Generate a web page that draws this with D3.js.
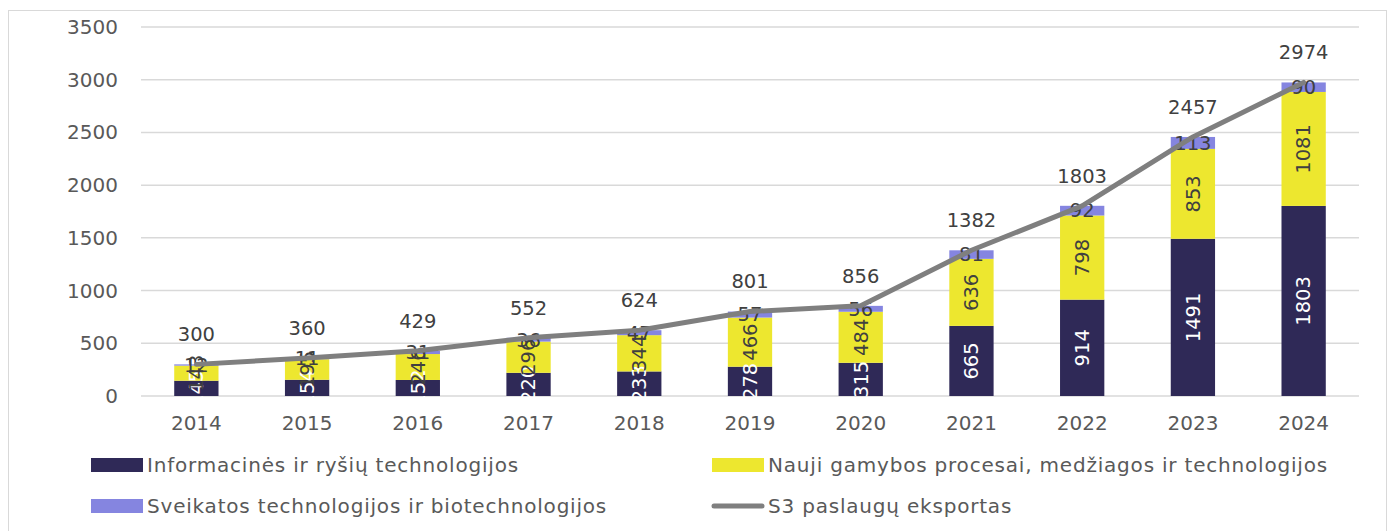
<!DOCTYPE html>
<html><head><meta charset="utf-8">
<script src="https://cdn.jsdelivr.net/npm/d3@7"></script>
<style>body{margin:0;background:#fff}svg{display:block}text{font-family:"DejaVu Sans",Verdana,sans-serif;fill:#404040}</style>
</head><body><svg id="c" width="1390" height="531"></svg>
<script>
const years=["2014","2015","2016","2017","2018","2019","2020","2021","2022","2023","2024"];
const ict=[145,154,152,220,233,278,315,665,914,1491,1803];
const nauji=[143,195,246,296,344,466,484,636,798,853,1081];
const sveik=[12,11,31,36,47,57,56,81,92,113,90];
const eksportas=[300,360,429,552,624,801,856,1382,1803,2457,2974];
const yTicks=[0,500,1000,1500,2000,2500,3000,3500];
const seriesNames=["Informacinės ir ryšių technologijos","Nauji gamybos procesai, medžiagos ir technologijos","Sveikatos technologijos ir biotechnologijos","S3 paslaugų eksportas"];
const colors=["#2f2957","#ede72f","#8585e0","#7f7f7f"];

const svg=d3.select("#c");
svg.append("rect").attr("x",8.5).attr("y",10.5).attr("width",1378).attr("height",530).attr("fill","none").attr("stroke","#d9d9d9");
const x=d3.scaleBand().domain(years).range([141,1359]).paddingInner(0.6).paddingOuter(0.3);
const y=d3.scaleLinear().domain([0,3500]).range([396,27]);

const g=svg.append("g");
g.selectAll("line.grid").data(yTicks).join("line").attr("x1",141).attr("x2",1359)
 .attr("y1",d=>y(d)).attr("y2",d=>y(d)).attr("stroke","#d9d9d9").attr("stroke-width",1.5);
g.selectAll("text.yt").data(yTicks).join("text").attr("x",118).attr("y",d=>y(d)).attr("dy","0.35em")
 .attr("text-anchor","end").attr("font-size",20).style("fill","#595959").text(d=>d);
g.selectAll("text.xt").data(years).join("text").attr("x",d=>x(d)+x.bandwidth()/2).attr("y",423).attr("dy","0.35em")
 .attr("text-anchor","middle").attr("font-size",20).style("fill","#595959").text(d=>d);

const stackData=years.map((yr,i)=>({year:yr,ict:ict[i],nauji:nauji[i],sveik:sveik[i]}));
const stack=d3.stack().keys(["ict","nauji","sveik"])(stackData);
stack.forEach((layer,li)=>{
  g.selectAll(null).data(layer).join("rect").attr("x",d=>x(d.data.year)).attr("width",x.bandwidth())
   .attr("y",d=>y(d[1])).attr("height",d=>y(d[0])-y(d[1])).attr("fill",colors[li]);
});
[0,1].forEach(li=>{
  g.selectAll(null).data(stack[li]).join("text")
   .attr("transform",d=>`translate(${x(d.data.year)+x.bandwidth()/2},${(y(d[0])+y(d[1]))/2}) rotate(-90)`)
   .attr("text-anchor","middle").attr("dy","0.35em").attr("font-size",19.5)
   .style("fill",li===0?"#ffffff":"#404040").text(d=>d[1]-d[0]);
});
g.selectAll(null).data(stack[2]).join("text").attr("x",d=>x(d.data.year)+x.bandwidth()/2)
 .attr("y",d=>(y(d[0])+y(d[1]))/2).attr("dy","0.35em").attr("text-anchor","middle").attr("font-size",19.5)
 .text(d=>d[1]-d[0]);

const line=d3.line().x((d,i)=>x(years[i])+x.bandwidth()/2).y(d=>y(d));
g.append("path").datum(eksportas).attr("d",line).attr("fill","none").attr("stroke",colors[3])
 .attr("stroke-width",5).attr("stroke-linejoin","round").attr("stroke-linecap","round");
g.selectAll(null).data(eksportas).join("text").attr("x",(d,i)=>x(years[i])+x.bandwidth()/2)
 .attr("y",d=>y(d)-30).attr("dy","0.35em").attr("text-anchor","middle").attr("font-size",19.5).text(d=>d);

const leg=[{i:0,x:91,y:465},{i:1,x:712,y:465},{i:2,x:91,y:506},{i:3,x:712,y:506}];
leg.forEach(l=>{
  if(l.i<3) svg.append("rect").attr("x",l.x).attr("y",l.y-7).attr("width",52).attr("height",14).attr("fill",colors[l.i]);
  else svg.append("line").attr("x1",l.x+2).attr("x2",l.x+50).attr("y1",l.y).attr("y2",l.y).attr("stroke",colors[3]).attr("stroke-width",5).attr("stroke-linecap","round");
  svg.append("text").attr("x",l.x+56).attr("y",l.y).attr("dy","0.35em").attr("font-size",20)
   .attr("letter-spacing",0.8).style("fill","#595959").text(seriesNames[l.i]);
});
</script></body></html>
